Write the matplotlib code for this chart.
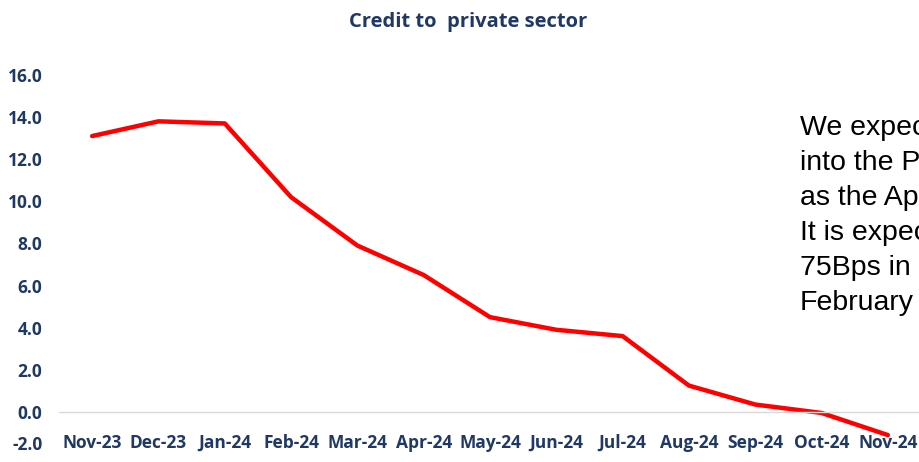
import numpy as np
import matplotlib.pyplot as plt

# data
months = ["Nov-23", "Dec-23", "Jan-24", "Feb-24", "Mar-24", "Apr-24", "May-24",
          "Jun-24", "Jul-24", "Aug-24", "Sep-24", "Oct-24", "Nov-24"]
credit_growth = [13.1, 13.8, 13.7, 10.2, 7.9, 6.5, 4.5, 3.9, 3.6, 1.25, 0.35, -0.05, -1.1]
y_ticks = np.arange(-2, 17, 2)

note_lines = ["We expec", "into the P", "as the Ap", "It is expec", "75Bps in", "February"]

navy = "#1F3864"
plt.rcParams['font.family'] = ['Liberation Sans Narrow', 'Open Sans', 'DejaVu Sans']

fig = plt.figure(figsize=(9.19, 4.62), dpi=100)
ax = fig.add_axes([59 / 919, 8 / 462, 862 / 919, 379 / 462])

x = np.arange(len(months))
ax.plot(x, credit_growth, color="#FF0000", lw=3.2, solid_capstyle="round")

ax.set_xlim(-0.5, len(months) - 0.5)
ax.set_ylim(-2, 16)

ax.set_yticks(y_ticks)
ax.set_yticklabels([f"{v:.1f}" for v in y_ticks])
ax.set_xticks(x)
ax.set_xticklabels(months)

for s in ["top", "right", "left"]:
    ax.spines[s].set_visible(False)
ax.spines["bottom"].set_position(("data", 0))
ax.spines["bottom"].set_color("#D9D9D9")
ax.spines["bottom"].set_linewidth(1)

ax.tick_params(axis="x", length=0, pad=16, labelsize=12.5, labelcolor=navy)
ax.tick_params(axis="y", length=0, pad=12, labelsize=12.5, labelcolor=navy)
for lab in ax.get_xticklabels() + ax.get_yticklabels():
    lab.set_fontweight("bold")
ax.get_yticklabels()[0].set_va("bottom")

fig.text(468 / 919, 1 - 22 / 462, "Credit to  private sector", ha="center", va="center",
         fontsize=14.5, fontweight="bold", color=navy)

for i, line in enumerate(note_lines):
    fig.text(800 / 919, 1 - (128 + 35 * i) / 462, line, ha="left", va="center",
             fontsize=20.5, color="black", family=["Liberation Sans", "DejaVu Sans"])

fig.savefig("out.png", dpi=100)
